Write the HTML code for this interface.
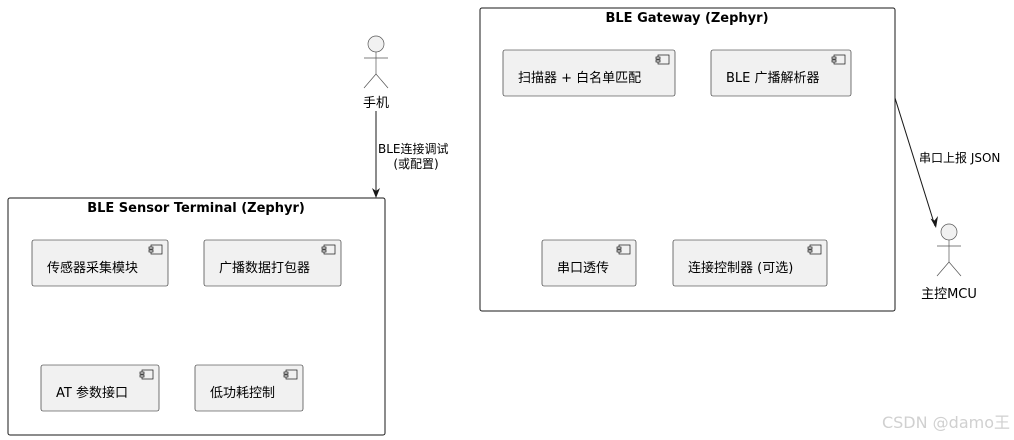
<!DOCTYPE html>
<html><head><meta charset="utf-8"><style>
html,body{margin:0;padding:0;background:#fff;}
svg{display:block;}
text{font-family:"DejaVu Sans","Noto Sans CJK SC",sans-serif;}
</style></head><body>
<svg width="1014" height="440" viewBox="0 0 1014 440" xmlns="http://www.w3.org/2000/svg">
<defs>
<g id="ci"><rect x="0" y="0" width="11" height="9" fill="#f1f1f1" stroke="#181818" stroke-width="0.7"/><rect x="-2" y="2" width="4" height="2" fill="#f1f1f1" stroke="#181818" stroke-width="0.7"/><rect x="-2" y="5" width="4" height="2" fill="#f1f1f1" stroke="#181818" stroke-width="0.7"/></g>
</defs>
<rect x="480" y="8" width="415" height="303" rx="2" fill="#fff" stroke="#181818" stroke-width="1"/>
<text x="687" y="22" font-size="13" font-weight="bold" text-anchor="middle">BLE Gateway (Zephyr)</text>
<rect x="8" y="198" width="377" height="237" rx="2" fill="#fff" stroke="#181818" stroke-width="1"/>
<text x="196" y="212" font-size="13" font-weight="bold" text-anchor="middle">BLE Sensor Terminal (Zephyr)</text>

<g stroke="#181818" stroke-width="0.6" fill="#f1f1f1">
<rect x="503" y="50" width="172" height="46" rx="2"/>
<rect x="711" y="50" width="140" height="46" rx="2"/>
<rect x="542" y="240" width="94" height="46" rx="2"/>
<rect x="673" y="240" width="154" height="46" rx="2"/>
<rect x="32" y="240" width="136" height="46" rx="2"/>
<rect x="204" y="240" width="137" height="46" rx="2"/>
<rect x="41" y="365" width="118" height="46" rx="2"/>
<rect x="195" y="365" width="108" height="46" rx="2"/>
</g>
<use href="#ci" x="658" y="55"/>
<use href="#ci" x="834" y="55"/>
<use href="#ci" x="619" y="245"/>
<use href="#ci" x="810" y="245"/>
<use href="#ci" x="151" y="245"/>
<use href="#ci" x="324" y="245"/>
<use href="#ci" x="142" y="370"/>
<use href="#ci" x="286" y="370"/>

<g font-size="13" fill="#000">
<text x="518" y="82">扫描器 + 白名单匹配</text>
<text x="726" y="82">BLE 广播解析器</text>
<text x="557" y="272">串口透传</text>
<text x="688" y="272">连接控制器 (可选)</text>
<text x="47" y="272">传感器采集模块</text>
<text x="219" y="272">广播数据打包器</text>
<text x="56" y="397">AT 参数接口</text>
<text x="210" y="397">低功耗控制</text>
</g>

<g stroke="#555" stroke-width="0.7" fill="none">
<circle cx="376" cy="44" r="8" fill="#f1f1f1"/>
<line x1="376" y1="52" x2="376" y2="74"/>
<line x1="364" y1="58" x2="388" y2="58"/>
<line x1="376" y1="74" x2="364" y2="88"/>
<line x1="376" y1="74" x2="388" y2="88"/>
<circle cx="949" cy="232" r="8" fill="#f1f1f1"/>
<line x1="949" y1="240" x2="949" y2="262"/>
<line x1="937" y1="246" x2="961" y2="246"/>
<line x1="949" y1="262" x2="937" y2="276"/>
<line x1="949" y1="262" x2="961" y2="276"/>
</g>
<text x="376" y="107" font-size="13" text-anchor="middle">手机</text>
<text x="949" y="298" font-size="13" text-anchor="middle">主控MCU</text>

<g stroke="#181818" stroke-width="1" fill="none">
<line x1="376" y1="111" x2="376" y2="197"/>
<line x1="895" y1="98" x2="935" y2="226"/>
</g>
<path d="M376,198 L372,188 L376,191 L380,188 Z" fill="#181818"/>
<path d="M936,228 L930.5,218.5 L934.5,220.5 L938,216 Z" fill="#181818"/>
<g font-size="12" fill="#000">
<text x="378" y="153">BLE连接调试</text>
<text x="416" y="168" text-anchor="middle">(或配置)</text>
<text x="919" y="162">串口上报 JSON</text>
</g>
<text x="1010" y="428" font-size="16" fill="#d0d0d0" text-anchor="end">CSDN @damo王</text>
</svg>
</body></html>
